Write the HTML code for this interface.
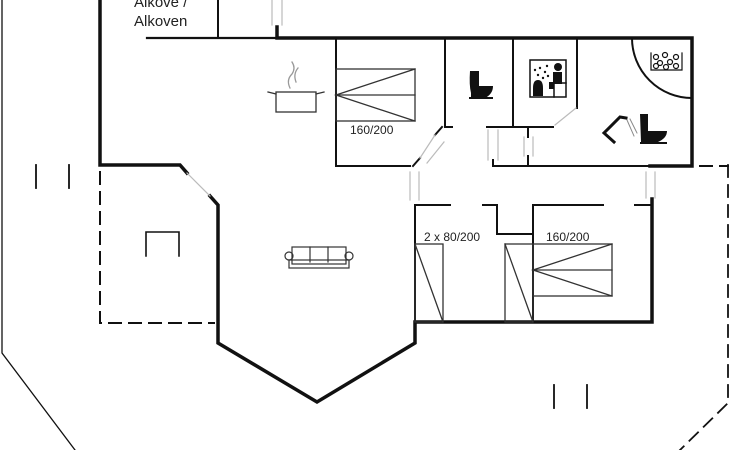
<!DOCTYPE html>
<html><head><meta charset="utf-8"><style>
html,body{margin:0;padding:0;background:#fff;width:730px;height:450px;overflow:hidden}
svg{display:block}
text{font-family:"Liberation Sans",sans-serif;fill:#222}
</style></head><body>
<svg width="730" height="450" viewBox="0 0 730 450" xmlns="http://www.w3.org/2000/svg">
<g fill="none" stroke="#111" stroke-linecap="square">
<!-- outer thin -->
<polyline points="2,0 2,353 75,450" stroke-width="1.3"/>
<polyline points="728,165 728,403 680,450" stroke-width="1.8" stroke-dasharray="12,8"/>
<line x1="700" y1="166" x2="728" y2="166" stroke-width="2" stroke-dasharray="12,8"/>
<!-- left terrace dashed -->
<polyline points="100,172 100,323 214,323" stroke-width="2" stroke-dasharray="12,8"/>
<!-- main thick walls -->
<polyline points="100,0 100,165 180,165 187,173" stroke-width="3.5"/>
<polyline points="210,196 218,205 218,343 317,402 415,343 415,322 652,322 652,199" stroke-width="3.5"/>
<polyline points="277,27 277,38 692,38 692,166 650,166" stroke-width="3.5"/>
<line x1="147" y1="38" x2="277" y2="38" stroke-width="2.2"/>
<line x1="218" y1="0" x2="218" y2="38" stroke-width="2"/>
<!-- bedroom 1 -->
<polyline points="336,38 336,166 410,166" stroke-width="2"/>
<polyline points="445,38 445,127 452,127" stroke-width="2"/>
<polyline points="487,127 553,127" stroke-width="2"/>
<line x1="513" y1="38" x2="513" y2="127" stroke-width="2"/>
<line x1="577" y1="38" x2="577" y2="108" stroke-width="2"/>
<polyline points="493,160 493,166 650,166" stroke-width="2"/>
<line x1="528" y1="127" x2="528" y2="137" stroke-width="2"/>
<line x1="528" y1="156" x2="528" y2="166" stroke-width="2"/>
<line x1="442" y1="127" x2="435" y2="135" stroke-width="2"/>
<line x1="420" y1="158" x2="413" y2="166" stroke-width="2"/>
<path d="M632,38 A60,60 0 0 0 692,98" stroke-width="2"/>
<!-- lower bedrooms -->
<polyline points="415,322 415,205 450,205" stroke-width="2"/>
<polyline points="483,205 497,205 497,234 533,234" stroke-width="2"/>
<polyline points="533,322 533,205 603,205" stroke-width="2"/>
<line x1="635" y1="205" x2="652" y2="205" stroke-width="2"/>
<!-- beds -->
<g stroke-width="1.3" stroke="#333">
<rect x="336" y="69" width="79" height="52"/>
<line x1="336" y1="95" x2="415" y2="95"/>
<polyline points="415,69 336,95 415,121"/>
<rect x="415" y="244" width="28" height="78"/>
<line x1="415" y1="244" x2="443" y2="322"/>
<rect x="505" y="244" width="28" height="78"/>
<line x1="505" y1="244" x2="533" y2="322"/>
<rect x="533" y="244" width="79" height="52"/>
<line x1="533" y1="270" x2="612" y2="270"/>
<polyline points="612,244 533,270 612,296"/>
</g>
<!-- grey door/window lines -->
<g stroke="#bbb" stroke-width="1.2">
<line x1="272" y1="0" x2="272" y2="25"/><line x1="282" y1="0" x2="282" y2="25"/>
<line x1="435" y1="135" x2="420" y2="158"/><line x1="444" y1="142" x2="427" y2="163"/>
<line x1="410" y1="172" x2="410" y2="200"/><line x1="419" y1="172" x2="419" y2="200"/>
<line x1="488" y1="130" x2="488" y2="160"/><line x1="498" y1="130" x2="498" y2="160"/>
<line x1="524" y1="137" x2="524" y2="156"/><line x1="533" y1="137" x2="533" y2="156"/>
<line x1="555" y1="125" x2="576" y2="108"/>
<line x1="646" y1="172" x2="646" y2="198"/><line x1="655" y1="172" x2="655" y2="198"/>
<line x1="187" y1="173" x2="210" y2="196"/>
</g>
<!-- ticks -->
<g stroke-width="1.8">
<line x1="36" y1="165" x2="36" y2="188"/><line x1="69" y1="165" x2="69" y2="188"/>
<line x1="554" y1="385" x2="554" y2="408"/><line x1="587" y1="385" x2="587" y2="408"/>
<polyline points="146,256 146,232 179,232 179,256" stroke-width="1.6"/>
</g>
<!-- pot -->
<g stroke-width="1.3" stroke="#333">
<rect x="276" y="92" width="40" height="20"/>
<path d="M276,94 L268,92 M316,94 L324,92"/>
<path d="M290,88 q-4,-8 2,-14 q4,-6 0,-12 M296,82 q-3,-8 2,-14" stroke="#999"/>
</g>
<!-- sofa -->
<g stroke-width="1.2" stroke="#333">
<rect x="292" y="247" width="54" height="17"/>
<line x1="310" y1="247" x2="310" y2="262"/><line x1="328" y1="247" x2="328" y2="262"/>
<rect x="289" y="260" width="60" height="8"/>
<circle cx="289" cy="256" r="4"/><circle cx="349" cy="256" r="4"/>
</g>
<!-- sauna -->
<g stroke-width="1.5">
<rect x="530" y="60" width="36" height="37"/>
<line x1="554" y1="83" x2="554" y2="97"/><line x1="554" y1="83" x2="566" y2="83"/>
</g>
<!-- tub -->
<g stroke-width="1.2">
<path d="M651,53 L651,70 L682,70 L682,53"/>
<circle cx="656" cy="57" r="2.5"/><circle cx="665" cy="55" r="2.5"/><circle cx="676" cy="57" r="2.5"/>
<circle cx="660" cy="63" r="2.5"/><circle cx="670" cy="62" r="2.5"/><circle cx="656" cy="66" r="2.5"/><circle cx="666" cy="67" r="2.5"/><circle cx="676" cy="66" r="2.5"/>
</g>
<!-- shower -->
<polyline points="614,142 604,133 620,117 626,118" stroke-width="3"/>
<g stroke="#888" stroke-width="1"><line x1="627" y1="120" x2="634" y2="136"/><line x1="630" y1="119" x2="637" y2="133"/></g>
</g>
<!-- toilets -->
<g fill="#111">
<path d="M470,71 h9 v15 h14 q0,8 -8,12 h-14 v-5 q-2,-8 -1,-22 z"/>
<rect x="469" y="97" width="24" height="2"/>
<path d="M640,114 h8 v17 h19 q0,7 -9,11 h-17 z"/>
<rect x="640" y="142" width="27" height="2"/>
<circle cx="558" cy="67" r="4"/>
<path d="M553,72 h9 v12 h-9 z M549,82 h5 v7 h-5z"/>
<path d="M533,88 q0,-8 5,-8 q5,0 5,8 v8 h-10 z"/>
<circle cx="535" cy="70" r="1.2"/><circle cx="540" cy="68" r="1.2"/><circle cx="545" cy="72" r="1.2"/><circle cx="538" cy="75" r="1.2"/><circle cx="547" cy="66" r="1.2"/><circle cx="543" cy="78" r="1.2"/><circle cx="548" cy="76" r="1.2"/>
</g>
<g font-size="12">
<text x="350" y="134">160/200</text>
<text x="424" y="241">2 x 80/200</text>
<text x="546" y="241">160/200</text>
</g>
<g font-size="15">
<text x="134" y="7">Alkove /</text>
<text x="134" y="26">Alkoven</text>
</g>
</svg>
</body></html>
